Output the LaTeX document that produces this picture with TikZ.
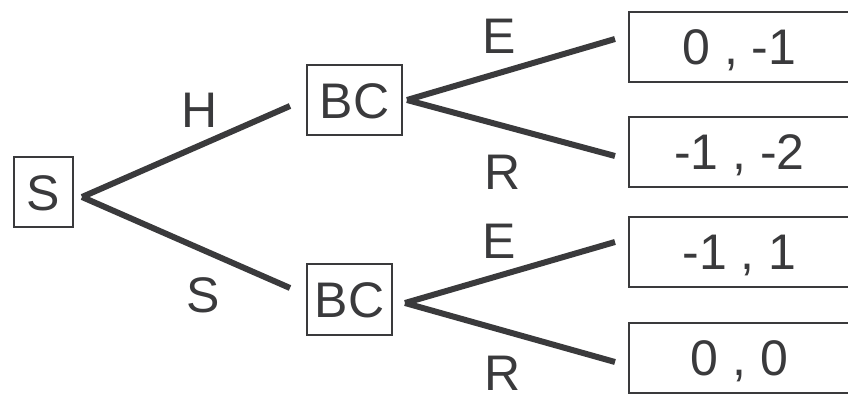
\documentclass[tikz,border=0pt]{standalone}
\usepackage{fontspec}
\setmainfont{Liberation Sans}
\usetikzlibrary{positioning,calc}

\definecolor{ink}{HTML}{3A3A3C}

\begin{document}
\begin{tikzpicture}[
        x=1pt, y=-1pt,
        font=\fontsize{50}{60}\selectfont,
        player/.style={
            rectangle, draw=ink, line width=2pt, text=ink,
            inner sep=0pt, minimum height=70pt,
            text height=35.8pt, text depth=0pt
        },
        payoff/.style={player, minimum width=221pt},
        branch/.style={draw=ink, line width=6pt},
        act/.style={text=ink, inner sep=0pt, text height=35.8pt, text depth=0pt},
    ]

    \useasboundingbox (0,0) rectangle (848,395);
    \clip (0,0) rectangle (848,395);

    % -- decision nodes --
    \node[player, minimum width=59pt] (S) at (43.5,192.5) {S};
    \node[player, minimum width=95pt] (bcH) at (354.5,100.5) {BC};
    \node[player, minimum width=85pt] (bcS) at (349.5,299.5) {BC};

    % -- payoffs --
    \node[payoff] (pHE) at (739.5,47) {0 , -1};
    \node[payoff, below=33pt of pHE] (pHR) {-1 , -2};
    \node[payoff, below=28pt of pHR] (pSE) {-1 , 1};
    \node[payoff, below=34pt of pSE] (pSR) {0 , 0};

    % -- branches --
    \draw[branch] ($(S.east)+(8,4.5)$) -- ($(bcH.west)+(-16,5.5)$);
    \draw[branch] ($(S.east)+(8,4.5)$) -- ($(bcS.west)+(-16,-11.5)$);
    \draw[branch] ($(bcH.east)+(4,-0.5)$) -- ($(pHE.west)+(-13,-8)$);
    \draw[branch] ($(bcH.east)+(4,-0.5)$) -- ($(pHR.west)+(-13,4)$);
    \draw[branch] ($(bcS.east)+(12,3.5)$) -- ($(pSE.west)+(-13,-10)$);
    \draw[branch] ($(bcS.east)+(12,3.5)$) -- ($(pSR.west)+(-13,4)$);

    % -- actions --
    \node[act] (aH) at (200,110) {H};
    \node[act] (aS) at (203,295) {S};
    \node[act] (aHE) at (499,36) {E};
    \node[act] (aHR) at (503,172) {R};
    \node[act] (aSE) at (499,241) {E};
    \node[act] (aSR) at (503,373) {R};

\end{tikzpicture}
\end{document}
